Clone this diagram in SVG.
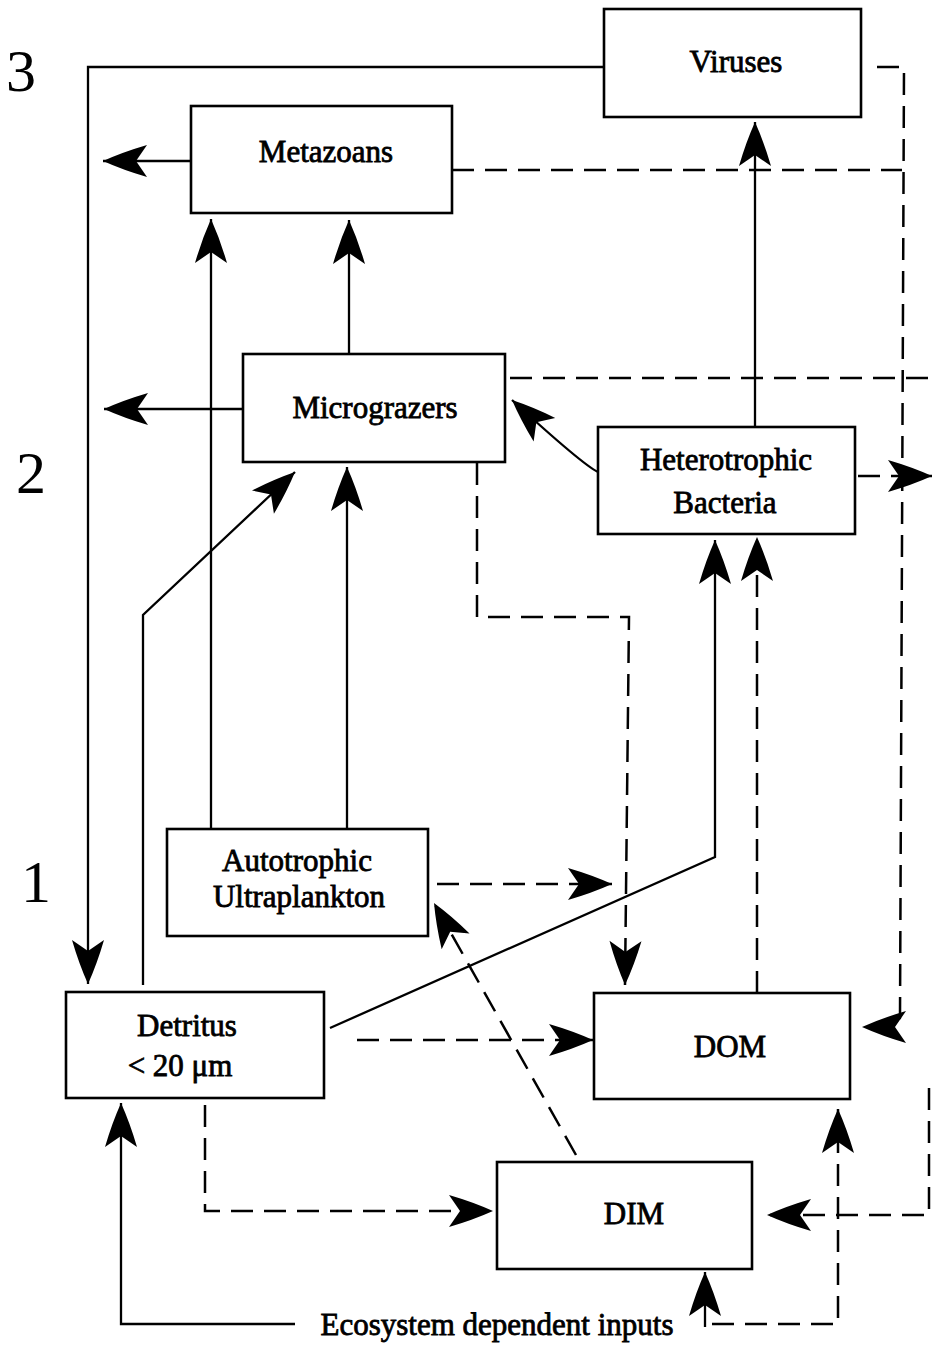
<svg xmlns="http://www.w3.org/2000/svg" width="932" height="1346" viewBox="0 0 932 1346">
<style>
.box{fill:#fff;stroke:#000;stroke-width:2.6}
.ln{fill:none;stroke:#000;stroke-width:2.3}
.dash{fill:none;stroke:#000;stroke-width:2.5;stroke-dasharray:22 11}
.lbl{font-family:"Liberation Serif","Times New Roman",serif;font-size:31px;fill:#000;stroke:#000;stroke-width:0.8;text-anchor:middle}
.lvl{font-family:"Liberation Serif","Times New Roman",serif;font-size:60px;fill:#000;text-anchor:middle}
</style>
<defs>
<marker id="ah" markerUnits="userSpaceOnUse" markerWidth="50" markerHeight="36" viewBox="-48 -18 50 36" refX="0" refY="0" orient="auto" overflow="visible">
<path d="M0,0 Q-20,-9 -44,-16 L-33,0 L-44,16 Q-20,9 0,0 Z" fill="#000"/>
</marker>
</defs>
<rect width="932" height="1346" fill="#fff"/>
<g id="levels">
<text class="lvl" x="21" y="91">3</text>
<text class="lvl" x="31" y="493">2</text>
<text class="lvl" x="36" y="902">1</text>
</g>
<g id="connectors">
<path class="ln" d="M604,67 H88 V984" marker-end="url(#ah)"/>
<path class="dash" d="M877,67 H904 L900,1016 Q900,1027 890,1027 L862,1027" marker-end="url(#ah)"/>
<path class="dash" d="M452,170 H902"/>
<path class="ln" d="M191,161 H103" marker-end="url(#ah)"/>
<path class="ln" d="M243,409 H104" marker-end="url(#ah)"/>
<path class="ln" d="M349,354 V220" marker-end="url(#ah)"/>
<path class="ln" d="M211,829 V219" marker-end="url(#ah)"/>
<path class="ln" d="M347,829 V467" marker-end="url(#ah)"/>
<path class="ln" d="M143,985 V615 L295,472" marker-end="url(#ah)"/>
<path class="ln" d="M755,427 V122" marker-end="url(#ah)"/>
<path class="ln" d="M598,472 Q583,465 512,400" marker-end="url(#ah)"/>
<path class="dash" d="M858,476 H932" marker-end="url(#ah)"/>
<path class="dash" d="M510,378 H932"/>
<path class="dash" d="M477,463 V617 H629 L625,985" marker-end="url(#ah)"/>
<path class="dash" d="M437,884 H612" marker-end="url(#ah)"/>
<path class="ln" d="M330,1028 L715,857 V540" marker-end="url(#ah)"/>
<path class="dash" d="M757,993 V537" marker-end="url(#ah)"/>
<path class="dash" d="M357,1040 H593" marker-end="url(#ah)"/>
<path class="dash" d="M576,1155 L434,903" marker-end="url(#ah)"/>
<path class="dash" d="M205,1105 V1211 H493" marker-end="url(#ah)"/>
<path class="dash" d="M929,1088 V1215 H767" marker-end="url(#ah)"/>
<path class="dash" d="M712,1324 H838 V1109" marker-end="url(#ah)"/>
<path class="ln" d="M295,1324 H121 V1103" marker-end="url(#ah)"/>
<path class="ln" d="M705,1327 V1272" marker-end="url(#ah)"/>
</g>
<g id="viruses">
<rect class="box" x="604" y="9" width="257" height="108"/>
<text class="lbl" x="736" y="72">Viruses</text>
</g>
<g id="metazoans">
<rect class="box" x="191" y="106" width="261" height="107"/>
<text class="lbl" x="326" y="162">Metazoans</text>
</g>
<g id="micrograzers">
<rect class="box" x="243" y="354" width="262" height="108"/>
<text class="lbl" x="375" y="418">Micrograzers</text>
</g>
<g id="bacteria">
<rect class="box" x="598" y="427" width="257" height="107"/>
<text class="lbl" x="726" y="470">Heterotrophic</text>
<text class="lbl" x="725" y="513">Bacteria</text>
</g>
<g id="ultraplankton">
<rect class="box" x="167" y="829" width="261" height="107"/>
<text class="lbl" x="297" y="871">Autotrophic</text>
<text class="lbl" x="299" y="907">Ultraplankton</text>
</g>
<g id="detritus">
<rect class="box" x="66" y="992" width="258" height="106"/>
<text class="lbl" x="187" y="1036">Detritus</text>
<text class="lbl" x="180" y="1076">&lt; 20 μm</text>
</g>
<g id="dom">
<rect class="box" x="594" y="993" width="256" height="106"/>
<text class="lbl" x="730" y="1057">DOM</text>
</g>
<g id="dim">
<rect class="box" x="497" y="1162" width="255" height="107"/>
<text class="lbl" x="634" y="1224">DIM</text>
</g>
<g id="inputs">
<text class="lbl" x="497" y="1335">Ecosystem dependent inputs</text>
</g>
</svg>
